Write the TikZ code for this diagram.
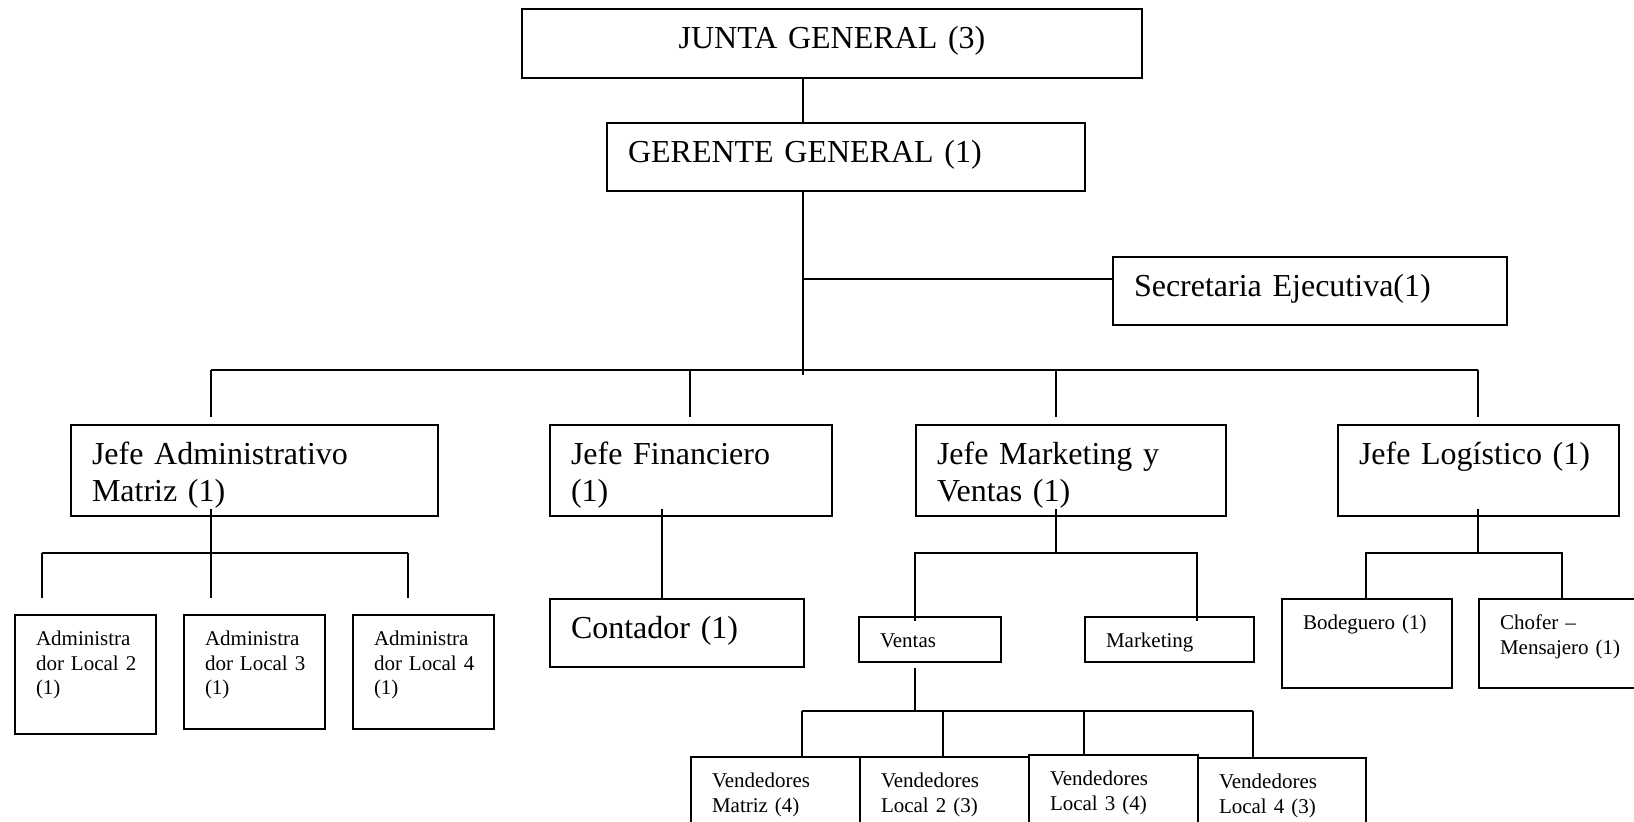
\documentclass[tikz,border=0pt]{standalone}
\usepackage{fontspec}
\setmainfont{Liberation Serif}
\usepackage{tikz}
\usetikzlibrary{calc}

\begin{document}
\begin{tikzpicture}[x=0.5pt, y=-0.5pt,
    box/.style={draw, line width=1pt, anchor=north west, inner xsep=10.5pt, inner ysep=0pt, align=left},
    big/.style={font=\fontsize{16}{18.5}\selectfont, text height=19.75pt},
    small/.style={font=\fontsize{10.5}{12.25}\selectfont, text height=15.5pt},
    conn/.style={line width=1pt}]
\fill[white] (0,0) rectangle (1634,822);
\useasboundingbox (0,0) rectangle (1634,822);

% top of the chart
\node[box, big, align=center, text width=289pt, text depth=14.75pt] (jg) at (521,8) {JUNTA GENERAL (3)};
\node[box, big, text width=218pt, text depth=14.25pt] (gg) at (606,122) {GERENTE GENERAL (1)};
\node[box, big, text width=176pt, text depth=14.25pt] (sec) at (1112,256) {Secretaria Ejecutiva(1)};

% jefes
\node[box, big, text width=162.5pt, text depth=25.75pt] (ja) at (70,424) {Jefe Administrativo\\Matriz (1)};
\node[box, big, text width=120pt, text depth=25.75pt] (jf) at (549,424) {Jefe Financiero\\(1)};
\node[box, big, text width=134pt, text depth=25.75pt] (jm) at (915,424) {Jefe Marketing y\\Ventas (1)};
\node[box, big, text width=119.5pt, text depth=25.75pt] (jl) at (1337,424) {\mbox{Jefe Logístico (1)}};

% under the jefes
\node[box, small, text width=49.5pt, text depth=44pt] (a2) at (14,614) {Administra\\\mbox{dor Local 2}\\(1)};
\node[box, small, text width=49.5pt, text depth=41.5pt] (a3) at (183,614) {Administra\\\mbox{dor Local 3}\\(1)};
\node[box, small, text width=49.5pt, text depth=41.5pt] (a4) at (352,614) {Administra\\\mbox{dor Local 4}\\(1)};
\node[box, big, text width=106pt, text depth=14.25pt] (cont) at (549,598) {Contador (1)};
\node[box, small, text width=50pt, text depth=7pt] (ven) at (858,616) {Ventas};
\node[box, small, text width=63.5pt, text depth=7pt] (mkt) at (1084,616) {Marketing};
\node[box, small, text width=64pt, text depth=29pt] (bod) at (1281,598) {Bodeguero (1)};
\node[box, small, text width=64pt, text depth=29pt] (cho) at (1478,598) {Chofer --\\\mbox{Mensajero (1)}};

% vendedores
\node[box, small, text width=63.5pt, text depth=34.5pt] (vm) at (690,756) {Vendedores\\Matriz (4)};
\node[box, small, text width=63.5pt, text depth=34.5pt] (v2) at (859,756) {Vendedores\\Local 2 (3)};
\node[box, small, text width=63.5pt, text depth=34.5pt] (v3) at (1028,754) {Vendedores\\Local 3 (4)};
\node[box, small, text width=63pt, text depth=34.5pt] (v4) at (1197,757) {Vendedores\\Local 4 (3)};

% main spine
\coordinate (spine) at (803,375);
\draw[conn] (jg.south -| spine) -- (gg.north -| spine);
\draw[conn] (gg.south -| spine) -- (spine);
\coordinate (secj) at (803,279);
\draw[conn] (secj) -- (sec.west |- secj);

% bus to the jefes
\coordinate (mbL) at (211,370);
\coordinate (mbR) at (1478,370);
\draw[conn] (mbL) -- (mbR);
\foreach \j/\x in {ja/211, jf/690, jm/1056, jl/1478} {
  \coordinate (m\j) at (\x,370);
  \draw[conn] (m\j) -- ($(\j.north -| m\j)+(0,-7)$);
}

% administrativo
\coordinate (aj) at (211,553);
\draw[conn] ($(ja.south -| aj)+(0,-8)$) -- (aj);
\draw[conn] (42,553) coordinate (abL) -- (408,553) coordinate (abR);
\foreach \b/\x in {a2/42, a3/211, a4/408} {
  \coordinate (t\b) at (\x,553);
  \draw[conn] (t\b) -- ($(\b.north -| t\b)+(0,-16)$);
}

% financiero
\coordinate (fj) at (662,560);
\draw[conn] ($(jf.south -| fj)+(0,-8)$) -- (cont.north -| fj);

% marketing y ventas
\coordinate (mj) at (1056,553);
\coordinate (mbl) at (915,553);
\coordinate (mbr) at (1197,553);
\draw[conn] ($(jm.south -| mj)+(0,-8)$) -- (mj);
\draw[conn] ($(ven.north -| mbl)+(0,5)$) -- (mbl) -- (mbr) -- ($(mkt.north -| mbr)+(0,5)$);
\coordinate (vj) at (915,711);
\draw[conn] ($(ven.south -| vj)+(0,5)$) -- (vj);
\draw[conn] (802,711) coordinate (vbL) -- (1253,711) coordinate (vbR);
\foreach \b/\x in {vm/802, v2/943, v3/1084, v4/1253} {
  \coordinate (t\b) at (\x,711);
  \draw[conn] (t\b) -- (\b.north -| t\b);
}

% logistico
\coordinate (lj) at (1478,553);
\draw[conn] ($(jl.south -| lj)+(0,-8)$) -- (lj);
\coordinate (lbL) at (1366,553);
\coordinate (lbR) at (1562,553);
\draw[conn] (bod.north -| lbL) -- (lbL) -- (lbR) -- (cho.north -| lbR);
\end{tikzpicture}
\end{document}
